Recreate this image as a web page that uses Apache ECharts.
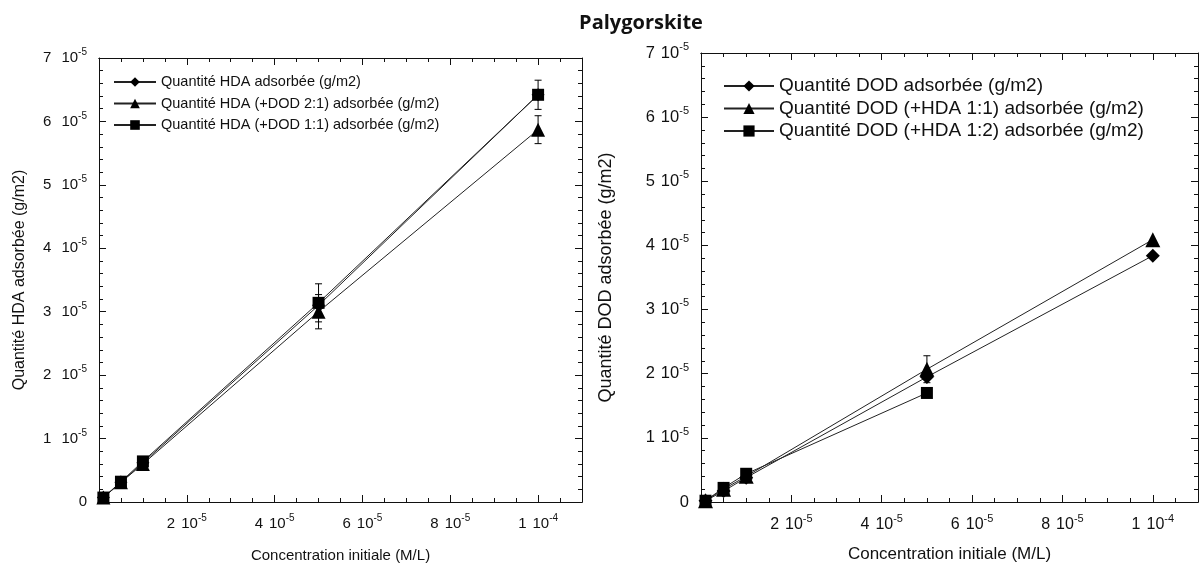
<!DOCTYPE html>
<html>
<head>
<meta charset="utf-8">
<script src="https://cdn.jsdelivr.net/npm/echarts@6/dist/echarts.min.js"></script>
<style>
  html, body { margin: 0; padding: 0; background: #fff; }
  #chart { width: 1201px; height: 572px; }
</style>
</head>
<body>
<div id="chart"></div>
<script>
// concentrations (M/L)
const concentration = [1e-6, 5e-6, 1e-5, 5e-5, 1e-4];

// left panel: HDA (g/m2)
const hdaSeul = [0.07e-5, 0.31e-5, 0.62e-5, 3.1e-5, 6.42e-5];
const hdaDod21 = [0.07e-5, 0.31e-5, 0.60e-5, 3.0e-5, 5.87e-5];
const hdaDod11 = [0.07e-5, 0.32e-5, 0.64e-5, 3.14e-5, 6.42e-5];
const hdaDod21Err = [0, 0, 0, 0.27e-5, 0.22e-5];
const hdaDod11Err = [0, 0, 0, 0.30e-5, 0.23e-5];

// right panel: DOD (g/m2)
const dodSeul = [0.02e-5, 0.17e-5, 0.38e-5, 1.95e-5, 3.84e-5];
const dodHda11 = [0.02e-5, 0.20e-5, 0.40e-5, 2.07e-5, 4.09e-5];
const dodHda12 = [0.02e-5, 0.22e-5, 0.44e-5, 1.70e-5, null];
const dodHda11Err = [0, 0, 0, 0.21e-5, 0];

const namesLeft = [
  'Quantité HDA adsorbée (g/m2)',
  'Quantité HDA (+DOD 2:1) adsorbée (g/m2)',
  'Quantité HDA (+DOD 1:1) adsorbée (g/m2)'
];
const namesRight = [
  'Quantité DOD adsorbée (g/m2)',
  'Quantité DOD (+HDA 1:1) adsorbée (g/m2)',
  'Quantité DOD (+HDA 1:2) adsorbée (g/m2)'
];

const FONT = 'Liberation Sans, Arial, sans-serif';
const INK = '#111';

function rich(size, gap) {
  return {
    n: { fontSize: size, fontFamily: FONT, color: INK, padding: [0, gap, 0, 0] },
    t: { fontSize: size, fontFamily: FONT, color: INK },
    s: { fontSize: Math.round(size * 0.66), fontFamily: FONT, color: INK, padding: [0, 0, size * 0.75, 0] }
  };
}

function xLabel(v) {
  const k = Math.round(v * 1e5);
  if (k <= 0 || Math.abs(v * 1e5 - k) > 1e-6 || k % 2 !== 0) return '';
  if (k === 10) return '{n|1}{t|10}{s|-4}';
  return '{n|' + k + '}{t|10}{s|-5}';
}
function yLabel(v) {
  const k = Math.round(v * 1e5);
  if (k === 0) return '{t|0}';
  return '{n|' + k + '}{t|10}{s|-5}';
}

function xAxes(grid, size, titleSize, gap) {
  const base = {
    gridIndex: grid, type: 'value', min: 0, max: 1.1e-4,
    splitLine: { show: false },
    axisLine: { onZero: false, lineStyle: { color: INK, width: 1 } }
  };
  return [
    Object.assign({}, base, {
      position: 'bottom', interval: 5e-6,
      axisTick: { inside: true, length: 4, lineStyle: { color: INK } },
      axisLabel: { formatter: xLabel, rich: rich(size, 6), margin: 11, showMaxLabel: false },
      name: 'Concentration initiale (M/L)', nameLocation: 'middle', nameGap: gap,
      nameTextStyle: { fontFamily: FONT, fontSize: titleSize, color: INK }
    }),
    Object.assign({}, base, {
      position: 'bottom', interval: 2e-5,
      axisTick: { inside: true, length: 7, lineStyle: { color: INK } },
      axisLabel: { show: false }
    }),
    Object.assign({}, base, {
      position: 'top', interval: 5e-6,
      axisTick: { inside: true, length: 4, lineStyle: { color: INK } },
      axisLabel: { show: false }
    }),
    Object.assign({}, base, {
      position: 'top', interval: 2e-5,
      axisTick: { inside: true, length: 7, lineStyle: { color: INK } },
      axisLabel: { show: false }
    })
  ];
}

function yAxes(grid, size, numGap, name, titleSize, gap) {
  const base = {
    gridIndex: grid, type: 'value', min: 0, max: 7e-5, interval: 1e-5,
    splitLine: { show: false },
    axisLine: { onZero: false, lineStyle: { color: INK, width: 1 } },
    axisTick: { inside: true, length: 7, lineStyle: { color: INK } },
    minorTick: { show: true, splitNumber: 5, length: 4, lineStyle: { color: INK } },
    minorSplitLine: { show: false }
  };
  return [
    Object.assign({}, base, {
      position: 'left',
      axisLabel: { formatter: yLabel, rich: rich(size, numGap), margin: 12 },
      name: name, nameLocation: 'middle', nameGap: gap,
      nameTextStyle: { fontFamily: FONT, fontSize: titleSize, color: INK }
    }),
    Object.assign({}, base, { position: 'right', axisLabel: { show: false } })
  ];
}

function pairs(ys) {
  return concentration.map((x, i) => [x, ys[i]]).filter(p => p[1] !== null);
}

function lineSeries(name, symbol, size, ys, xi, yi) {
  return {
    name: name, type: 'line', xAxisIndex: xi, yAxisIndex: yi,
    data: pairs(ys), symbol: symbol, symbolSize: size, showSymbol: true,
    lineStyle: { color: '#222', width: 1 },
    itemStyle: { color: '#000', borderWidth: 0 },
    z: 3, animation: false
  };
}

function errSeries(ys, errs, xi, yi) {
  const data = [];
  concentration.forEach((x, i) => { if (errs[i]) data.push([x, ys[i], errs[i]]); });
  return {
    type: 'custom', xAxisIndex: xi, yAxisIndex: yi, data: data, z: 2, silent: true,
    renderItem: function (params, api) {
      const x = api.value(0), y = api.value(1), e = api.value(2);
      const top = api.coord([x, y + e]);
      const bot = api.coord([x, y - e]);
      const st = { stroke: '#000', lineWidth: 1 };
      return {
        type: 'group',
        children: [
          { type: 'line', shape: { x1: top[0], y1: top[1], x2: bot[0], y2: bot[1] }, style: st },
          { type: 'line', shape: { x1: top[0] - 3.5, y1: top[1], x2: top[0] + 3.5, y2: top[1] }, style: st },
          { type: 'line', shape: { x1: bot[0] - 3.5, y1: bot[1], x2: bot[0] + 3.5, y2: bot[1] }, style: st }
        ]
      };
    }
  };
}

const chart = echarts.init(document.getElementById('chart'), null, { renderer: 'canvas' });

chart.setOption({
  animation: false,
  backgroundColor: '#fff',
  title: {
    text: 'Palygorskite', left: 636, top: 8, textAlign: 'center',
    textStyle: { fontFamily: 'Open Sans, sans-serif', fontWeight: 'bold', fontSize: 20, color: '#111' }
  },
  grid: [
    { left: 99, top: 58, width: 483, height: 444 },
    { left: 701, top: 53, width: 497, height: 449 }
  ],
  legend: [
    {
      data: namesLeft, orient: 'vertical', left: 113, top: 74.5, padding: 0,
      itemWidth: 42, itemHeight: 12, itemGap: 6.5,
      textStyle: { fontFamily: FONT, fontSize: 14.5, lineHeight: 15, color: INK }
    },
    {
      data: namesRight, orient: 'vertical', left: 723, top: 76.5, padding: 0,
      itemWidth: 50, itemHeight: 14, itemGap: 3.5,
      textStyle: { fontFamily: FONT, fontSize: 19, lineHeight: 19, color: INK }
    }
  ],
  xAxis: xAxes(0, 15, 15, 46).concat(xAxes(1, 16, 17, 44)),
  yAxis: yAxes(0, 15, 10, 'Quantité HDA adsorbée (g/m2)', 16, 71).concat(
         yAxes(1, 16.5, 6, 'Quantité DOD adsorbée (g/m2)', 18, 86)),
  series: [
    errSeries(hdaDod21, hdaDod21Err, 0, 0),
    errSeries(hdaDod11, hdaDod11Err, 0, 0),
    lineSeries(namesLeft[0], 'diamond', 13, hdaSeul, 0, 0),
    lineSeries(namesLeft[1], 'triangle', 14, hdaDod21, 0, 0),
    lineSeries(namesLeft[2], 'rect', 12, hdaDod11, 0, 0),
    errSeries(dodHda11, dodHda11Err, 4, 2),
    lineSeries(namesRight[0], 'diamond', 14, dodSeul, 4, 2),
    lineSeries(namesRight[1], 'triangle', 15, dodHda11, 4, 2),
    lineSeries(namesRight[2], 'rect', 12, dodHda12, 4, 2)
  ]
});
</script>
</body>
</html>
